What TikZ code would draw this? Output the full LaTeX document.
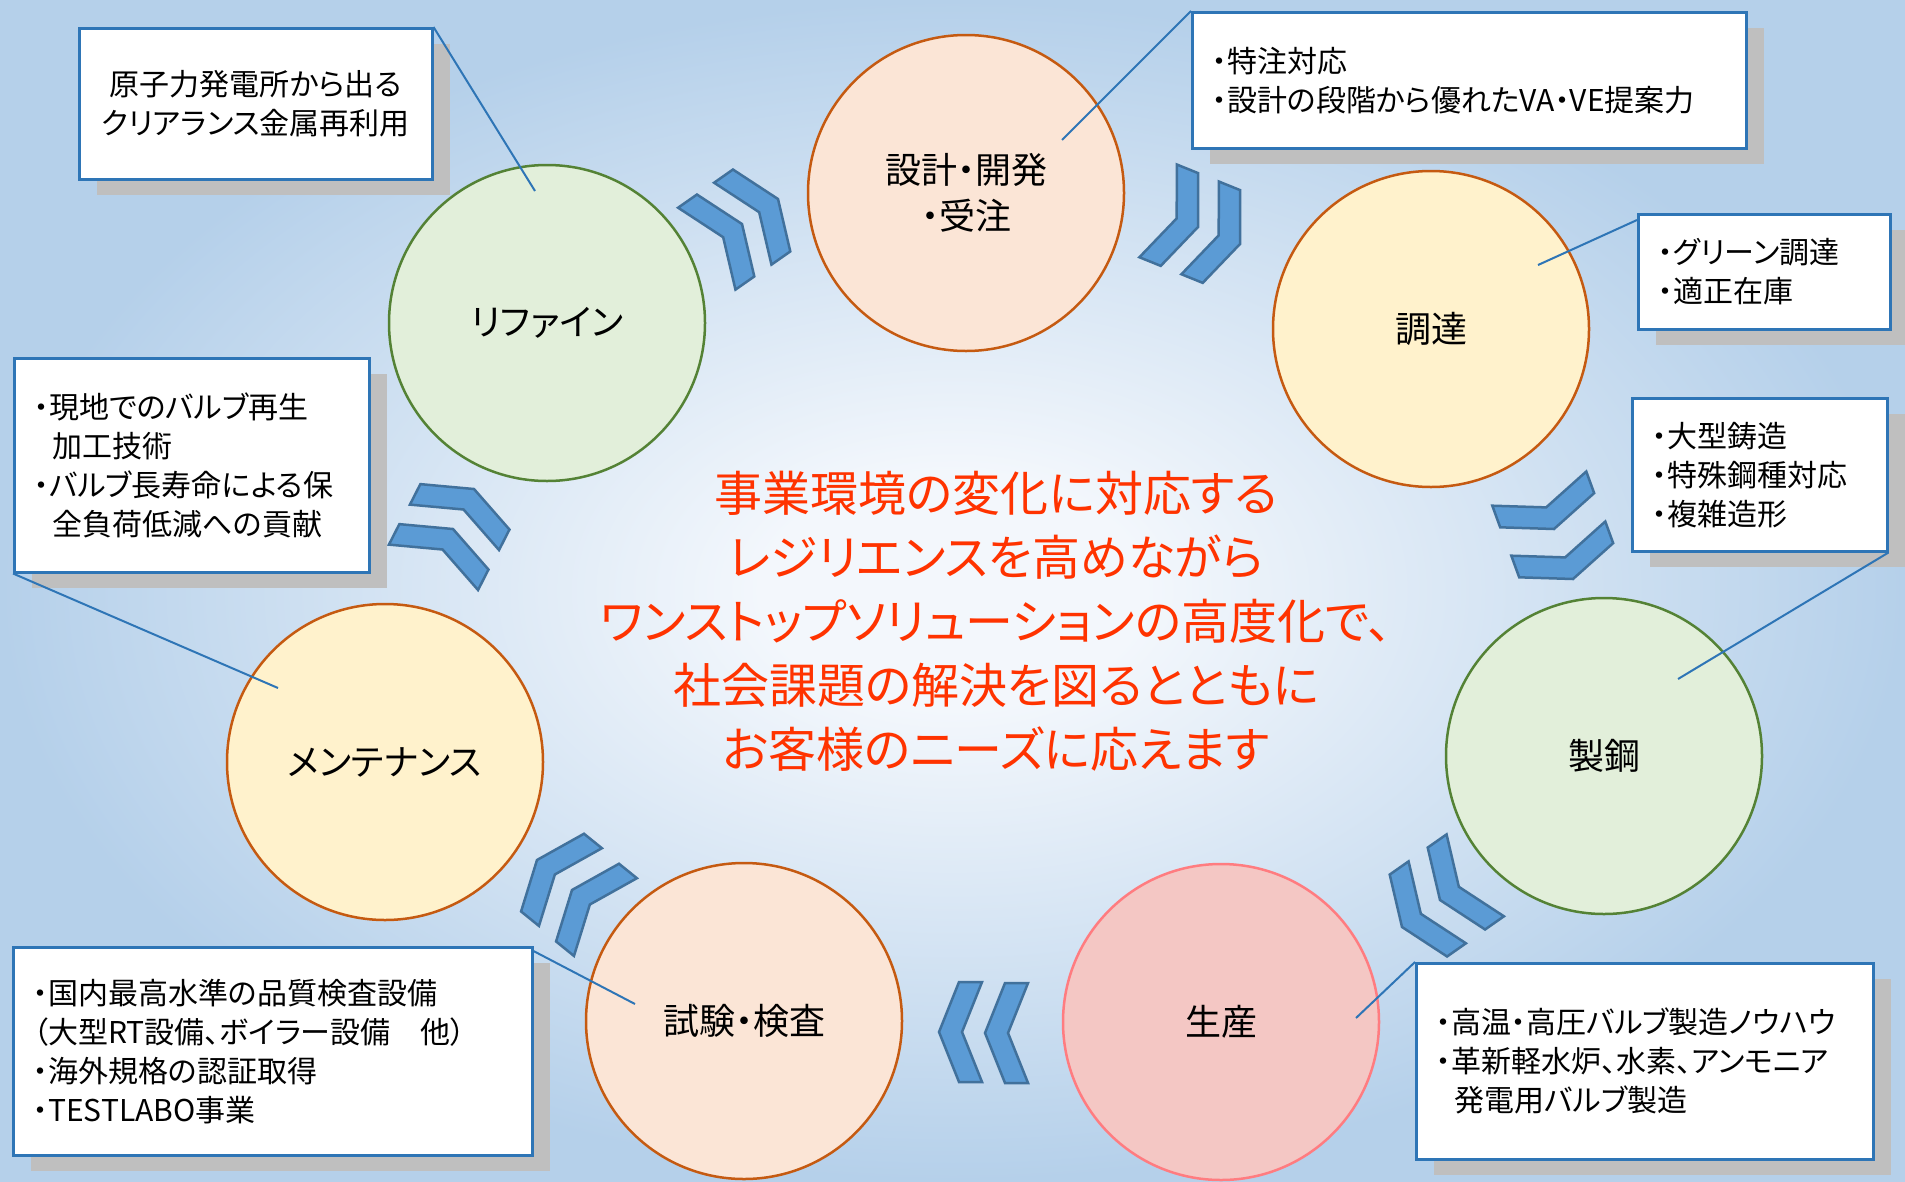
\documentclass[tikz,border=0pt]{standalone}
\usepackage{fontspec}
\newfontfamily\jp[RawFeature=+palt]{Noto Sans CJK JP}
\usetikzlibrary{shadows}
\definecolor{bgin}{HTML}{F3F7FC}
\definecolor{bgout}{HTML}{B5D0EA}
\definecolor{chevfill}{HTML}{5B9BD5}
\definecolor{chevline}{HTML}{41719C}
\definecolor{linkc}{HTML}{2E75B6}
\definecolor{shadowc}{HTML}{BFBFBF}
\definecolor{orangeb}{HTML}{C55A11}
\definecolor{greenb}{HTML}{548235}
\definecolor{pinkb}{HTML}{FF7C80}
\definecolor{peachf}{HTML}{FBE5D6}
\definecolor{yellowf}{HTML}{FFF2CC}
\definecolor{greenf}{HTML}{E2EFDA}
\definecolor{pinkf}{HTML}{F4C7C4}
\definecolor{redt}{HTML}{FF3300}
\pgfdeclareradialshading{bgshade}{\pgfpoint{0bp}{0bp}}{color(0bp)=(bgin); color(5bp)=(bgin); color(25bp)=(bgout); color(50bp)=(bgout)}
\tikzset{
 circ/.style={circle, line width=2.5pt, minimum size=316pt, inner sep=0pt, align=center, font=\jp\fontsize{36}{46}\selectfont},
 infobox/.style={rectangle, draw=linkc, line width=2.5pt, fill=white, inner xsep=20pt, inner ysep=0pt, align=left, anchor=north west, font=\jp\fontsize{30}{39}\selectfont, drop shadow={shadow xshift=18pt, shadow yshift=-16pt, fill=shadowc, opacity=1}},
 link/.style={draw=linkc, line width=2pt},
 chev/.pic={\path[fill=chevfill, draw=chevline, line width=2.5pt, line join=miter] (0,0) -- (-20,50) -- (-43,50) -- (-23,0) -- (-43,-50) -- (-20,-50) -- cycle;}
}
\begin{document}
\begin{tikzpicture}[x=1pt,y=-1pt]
\path[shading=bgshade] (0,0) rectangle (1905,1181);
\useasboundingbox (0,0) rectangle (1905,1181);

% circles
\node[circ, draw=orangeb, fill=peachf] (c1) at (966,193) {設計・開発\\・受注};
\node[circ, draw=orangeb, fill=yellowf] (c2) at (1431,329) {調達};
\node[circ, draw=greenb, fill=greenf] (c3) at (1604,756) {製鋼};
\node[circ, draw=pinkb, fill=pinkf] (c4) at (1221,1022) {生産};
\node[circ, draw=orangeb, fill=peachf] (c5) at (744,1021) {試験・検査};
\node[circ, draw=orangeb, fill=yellowf] (c6) at (385,762) {メンテナンス};
\node[circ, draw=greenb, fill=greenf] (c7) at (547,323) {リファイン};

% chevrons
\pic[rotate=35] at (742,224) {chev};
\pic[rotate=35] at (778,199) {chev};
\pic[rotate=-22] at (1198,227) {chev};
\pic[rotate=-22] at (1240,244) {chev};
\pic[rotate=-70] at (1554,529) {chev};
\pic[rotate=-70] at (1573,579) {chev};
\pic[rotate=215] at (1440,900) {chev};
\pic[rotate=215] at (1402,927) {chev};
\pic[rotate=180] at (985,1033) {chev};
\pic[rotate=180] at (939,1032) {chev};
\pic[rotate=141] at (572,890) {chev};
\pic[rotate=141] at (537,860) {chev};
\pic[rotate=63] at (453,529) {chev};
\pic[rotate=63] at (474,489) {chev};

% boxes
\node[infobox, minimum width=353pt, minimum height=151pt, text width=313pt, align=center] (b1) at (78,27) {原子力発電所から出る\\クリアランス金属再利用};
\node[infobox, minimum width=554pt, minimum height=136pt, text width=514pt] (b2) at (1191,11) {・特注対応\\・設計の段階から優れたVA・VE提案力};
\node[infobox, minimum width=252pt, minimum height=115pt, text width=212pt] (b3) at (1637,213) {・グリーン調達\\・適正在庫};
\node[infobox, minimum width=255pt, minimum height=153pt, text width=215pt] (b4) at (1631,397) {・大型鋳造\\・特殊鋼種対応\\・複雑造形};
\node[infobox, minimum width=457pt, minimum height=196pt, text width=417pt] (b5) at (1415,962) {・高温・高圧バルブ製造ノウハウ\\・革新軽水炉、水素、アンモニア\\\hspace*{0.62em}発電用バルブ製造};
\node[infobox, minimum width=519pt, minimum height=208pt, text width=479pt] (b6) at (12,946) {・国内最高水準の品質検査設備\\（大型RT設備、ボイラー設備　他）\\・海外規格の認証取得\\・TESTLABO事業};
\node[infobox, minimum width=355pt, minimum height=214pt, text width=315pt] (b7) at (13,357) {・現地でのバルブ再生\\\hspace*{0.62em}加工技術\\・バルブ長寿命による保\\\hspace*{0.62em}全負荷低減への貢献};

% connectors
\coordinate (p1) at (535,191);
\coordinate (p2) at (1062,140);
\coordinate (p3) at (1538,265);
\coordinate (p4) at (1678,679);
\coordinate (p5) at (1356,1018);
\coordinate (p6) at (635,1004);
\coordinate (p7) at (278,688);
\draw[link] (b1.north east) -- (p1);
\draw[link] (b2.north west) -- (p2);
\draw[link] ([yshift=-7pt]b3.north west) -- (p3);
\draw[link] (b4.south east) -- (p4);
\draw[link] (b5.north west) -- (p5);
\draw[link] ([yshift=-5pt]b6.north east) -- (p6);
\draw[link] (b7.south west) -- (p7);

% centre text
\node[font=\jp\fontsize{48}{64}\selectfont, text=redt, align=center] (ctr) at (996,621) {事業環境の変化に対応する\\レジリエンスを高めながら\\ワンストップソリューションの高度化で、\\社会課題の解決を図るとともに\\お客様のニーズに応えます};
\end{tikzpicture}
\end{document}
